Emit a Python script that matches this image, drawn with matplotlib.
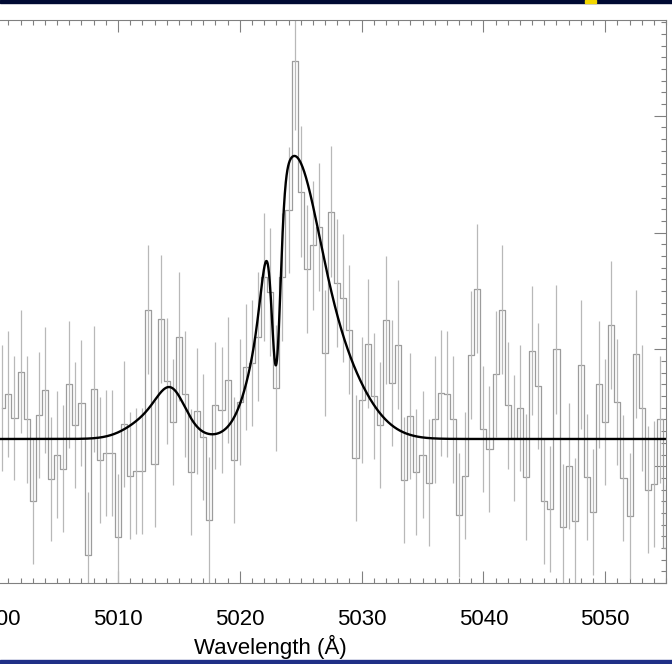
import numpy as np
import matplotlib
matplotlib.use("Agg")
import matplotlib.pyplot as plt
from matplotlib.patches import Rectangle
from matplotlib.ticker import MultipleLocator

plt.rcParams['font.family'] = ['Liberation Sans', 'DejaVu Sans']

# --- spectrum, 0.5 A bins starting at 5000.5 A ---
WAVE_START = 5000.5
BIN = 0.5
flux = [
    1.50, 1.62, 1.41, 1.81, 1.40, 0.70, 1.44, 1.65, 0.89, 1.10,
    0.98, 1.70, 1.35, 1.54, 0.24, 1.66, 1.05, 1.11, 1.11, 0.39,
    1.36, 0.92, 0.96, 0.96, 2.34, 1.02, 2.26, 1.73, 1.38, 2.11,
    1.62, 0.95, 1.47, 1.25, 0.54, 1.52, 1.48, 1.74, 1.05, 1.55,
    1.85, 1.88, 2.11, 2.62, 2.49, 1.67, 2.62, 3.19, 4.47, 3.35,
    2.69, 2.89, 3.05, 1.97, 3.18, 2.57, 2.44, 2.17, 1.07, 1.57,
    2.05, 1.60, 1.35, 2.25, 1.71, 2.04, 0.88, 1.43, 0.95, 1.10,
    0.86, 1.40, 1.63, 1.62, 1.40, 0.58, 0.92, 1.95, 2.52, 1.32,
    1.15, 1.79, 2.34, 1.52, 1.24, 1.50, 0.91, 1.99, 1.69, 0.70,
    0.63, 2.00, 0.48, 1.00, 0.53, 1.87, 0.91, 0.61, 1.70, 1.38,
    2.21, 1.55, 0.90, 0.57, 1.96, 1.50, 0.80, 0.85, 1.40, 0.30,
]
err = [
    0.54, 0.54, 0.53, 0.53, 0.54, 0.54, 0.54, 0.54, 0.53, 0.54,
    0.54, 0.54, 0.54, 0.54, 0.54, 0.54, 0.54, 0.54, 0.54, 0.54,
    0.54, 0.54, 0.54, 0.54, 0.55, 0.54, 0.55, 0.54, 0.54, 0.55,
    0.54, 0.54, 0.54, 0.54, 0.54, 0.54, 0.54, 0.54, 0.54, 0.54,
    0.54, 0.54, 0.55, 0.55, 0.55, 0.54, 0.55, 0.54, 0.59, 0.56,
    0.55, 0.55, 0.55, 0.54, 0.56, 0.55, 0.55, 0.55, 0.54, 0.54,
    0.55, 0.54, 0.54, 0.55, 0.54, 0.55, 0.54, 0.54, 0.54, 0.54,
    0.54, 0.54, 0.54, 0.54, 0.54, 0.53, 0.54, 0.55, 0.55, 0.54,
    0.54, 0.54, 0.55, 0.54, 0.54, 0.54, 0.54, 0.55, 0.54, 0.54,
    0.54, 0.55, 0.54, 0.54, 0.54, 0.55, 0.54, 0.54, 0.54, 0.54,
    0.55, 0.54, 0.54, 0.54, 0.55, 0.54, 0.54, 0.54, 0.54, 0.54,
]

# --- fitted model: continuum + gaussian components ---
CONTINUUM = 1.233
comp_center = [5013.3, 5014.4, 5022.1, 5023.0, 5024.1, 5027.0]
comp_sigma = [2.0, 1.1, 0.45, 0.35, 2.05, 2.8]
comp_amp = [0.22, 0.25, 0.19, -1.34, 1.926, 0.795]

wave = WAVE_START + BIN * np.arange(len(flux))
flux = np.array(flux)
err = np.array(err)

wl = np.linspace(4990, 5055, 4000)
model = np.full_like(wl, CONTINUUM)
for c, s, a in zip(comp_center, comp_sigma, comp_amp):
    model += a * np.exp(-0.5 * ((wl - c) / s) ** 2)

W, H = 672, 664
fig = plt.figure(figsize=(W / 100, H / 100), dpi=100)
# plot box is wider than the canvas: its left part (y labels) is cropped off
ax = fig.add_axes([-125.6 / W, 81 / H, 791.7 / W, 563 / H])

ax.step(wave, flux, where='mid', color='#9c9c9c', lw=0.9)
ax.vlines(wave, flux - err, flux + err, color='#b8b8b8', lw=0.9)
ax.plot(wl, model, color='black', lw=1.7)

ax.set_xlim(4990, 5055)
ax.set_ylim(0, 4.82)
ax.xaxis.set_major_locator(MultipleLocator(10))
ax.xaxis.set_minor_locator(MultipleLocator(1))
ax.yaxis.set_major_locator(MultipleLocator(1))
ax.yaxis.set_minor_locator(MultipleLocator(0.1))
ax.tick_params(which='both', direction='in', top=True, right=True,
               colors='#808080', labelcolor='black', labelsize=16)
ax.tick_params(which='major', length=8.5, width=0.8, pad=19)
ax.tick_params(which='minor', length=3.6, width=0.8)
for sp in ax.spines.values():
    sp.set_color('#808080')
    sp.set_linewidth(0.8)
ax.set_xlabel('Wavelength (Å)', fontsize=16, labelpad=3.5)

# slide frame bits around the screenshot
fig.patches.append(Rectangle((0, 1 - 3 / H), 1, 3 / H, transform=fig.transFigure,
                             color='#000a33', zorder=10))
fig.patches.append(Rectangle((585 / W, 1 - 3 / H), 11 / W, 3 / H, transform=fig.transFigure,
                             color='#f2d600', zorder=11))
fig.patches.append(Rectangle((0, 0), 1, 4 / H, transform=fig.transFigure,
                             color='#1f2f86', zorder=10))

fig.savefig('out.png', dpi=100)
